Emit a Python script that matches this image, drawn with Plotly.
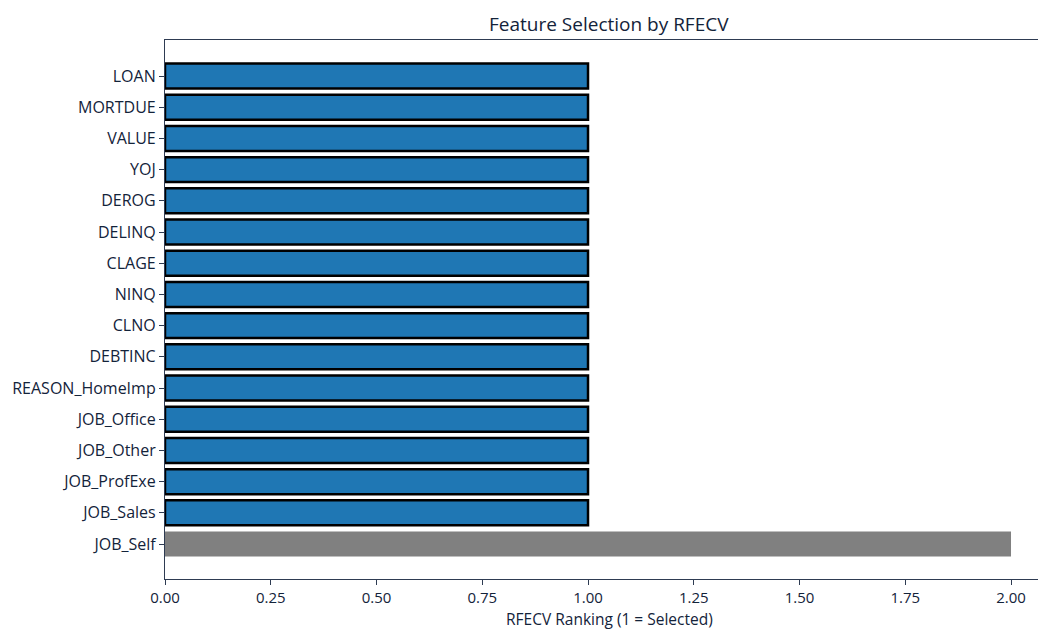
import plotly.graph_objects as go

# Features and their RFECV ranking (1 = selected)
features = ["LOAN", "MORTDUE", "VALUE", "YOJ", "DEROG", "DELINQ", "CLAGE", "NINQ",
            "CLNO", "DEBTINC", "REASON_HomeImp", "JOB_Office", "JOB_Other",
            "JOB_ProfExe", "JOB_Sales", "JOB_Self"]
ranking = [1, 1, 1, 1, 1, 1, 1, 1, 1, 1, 1, 1, 1, 1, 1, 2]

SELECTED_COLOR = "#1f77b4"
DROPPED_COLOR = "#808080"
TEXT_COLOR = "#13233a"
AXIS_COLOR = "#2e3b52"
FONT = "Open Sans, Lato, sans-serif"

colors = [SELECTED_COLOR if r == 1 else DROPPED_COLOR for r in ranking]
edge_widths = [2.5 if r == 1 else 0 for r in ranking]

fig = go.Figure(go.Bar(
    x=ranking,
    y=features,
    orientation="h",
    width=0.8,
    marker=dict(color=colors, line=dict(color="black", width=edge_widths)),
))

W, H = 1038, 630
L, T, B = 165, 40, 51

fig.update_layout(
    width=W, height=H,
    margin=dict(l=L, r=0, t=T, b=B),
    paper_bgcolor="white",
    plot_bgcolor="white",
    showlegend=False,
    font=dict(family=FONT, color=TEXT_COLOR, size=14),
    xaxis=dict(
        range=[0, 2.0638],
        tickvals=[0, 0.25, 0.5, 0.75, 1.0, 1.25, 1.5, 1.75, 2.0],
        ticktext=["0.00", "0.25", "0.50", "0.75", "1.00", "1.25", "1.50", "1.75", "2.00"],
        showgrid=False, zeroline=False,
        showline=True, linecolor=AXIS_COLOR, linewidth=1.2, mirror=True,
        ticks="outside", ticklen=5, tickcolor=AXIS_COLOR,
        tickfont=dict(size=15, color=TEXT_COLOR),
    ),
    yaxis=dict(
        categoryorder="array", categoryarray=features,
        range=[16.12, -1.154],
        showgrid=False, zeroline=False,
        showline=True, linecolor=AXIS_COLOR, linewidth=1.2,
        ticks="outside", ticklen=5, tickcolor=AXIS_COLOR,
        tickfont=dict(size=16, color=TEXT_COLOR),
    ),
    annotations=[
        dict(text="Feature Selection by RFECV", xref="paper", yref="paper",
             x=(609 - L) / (W - L), y=1, yshift=16, xanchor="center", yanchor="middle",
             showarrow=False, font=dict(size=19, color=TEXT_COLOR, family=FONT)),
        dict(text="RFECV Ranking (1 = Selected)", xref="paper", yref="paper",
             x=(609 - L) / (W - L), y=0, yshift=-40, xanchor="center", yanchor="middle",
             showarrow=False, font=dict(size=15.5, color=TEXT_COLOR, family=FONT)),
    ],
)

fig.write_html("out.html")
